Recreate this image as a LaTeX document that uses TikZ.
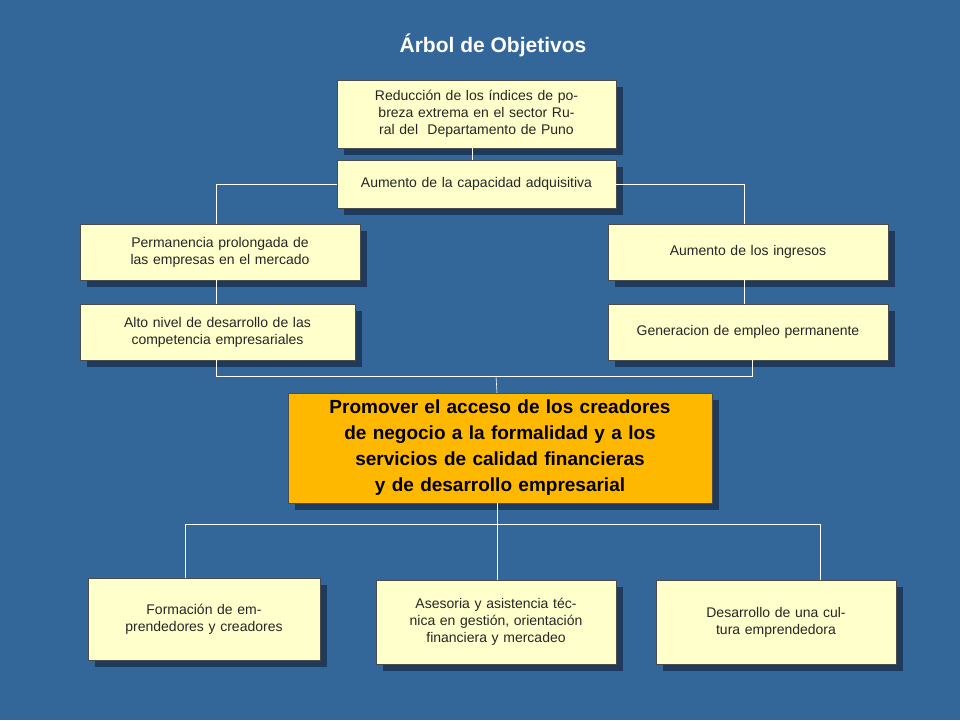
\documentclass[tikz,border=0pt]{standalone}
\usepackage{fontspec}
\setmainfont{Liberation Sans}
\begin{document}
\begin{tikzpicture}[x=1pt,y=-1pt,
  bx/.style={draw=black!70,line width=0.4pt,fill=yellow!20!white,fill=boxfill,align=center,inner sep=2pt,
    font=\fontsize{14}{17}\selectfont,text=black!85,
    postaction={}},
  ln/.style={draw=white,line width=0.6pt}]
\definecolor{bg}{HTML}{336699}
\definecolor{boxfill}{HTML}{FFFFCC}
\definecolor{shd}{HTML}{1E3A5C}
\definecolor{org}{HTML}{FFB800}
\fill[bg] (0,0) rectangle (960,720);
\useasboundingbox (0,0) rectangle (960,720);
\node[font=\bfseries\fontsize{21}{24}\selectfont,text=white] (title) at (493,45) {Árbol de Objetivos};
% boxes: #1 name, #2 x1,#3 y1,#4 x2,#5 y2
\newcommand\mybox[6]{%
  \fill[shd] (#2+7,#3+7) rectangle (#4+7,#5+7);
  \node[bx,minimum width=#4-#2,minimum height=#5-#3,text width=#4-#2-10] (#1) at ({(#2+#4)/2},{(#3+#5)/2}) {#6};}
\mybox{b1}{337}{80}{616}{148}{Reducción de los índices de pobreza extrema en el sector Rural del\ \ Departamento de Puno}
\mybox{b2}{337}{160}{616}{208}{Aumento de la capacidad adquisitiva}
\mybox{b3}{80}{224}{360}{280}{Permanencia prolongada de las empresas en el mercado}
\mybox{b4}{608}{224}{888}{280}{Aumento de los ingresos}
\mybox{b5}{80}{304}{355}{360}{Alto nivel de desarrollo de las competencia empresariales}
\mybox{b6}{608}{304}{888}{360}{Generacion de empleo permanente}
\mybox{b7}{88}{578}{320}{660}{Formación de emprendedores y creadores}
\mybox{b8}{376}{580}{616}{664}{Asesoria y asistencia técnica en gestión, orientación financiera y mercadeo}
\mybox{b9}{656}{580}{896}{664}{Desarrollo de una cultura emprendedora}
\fill[shd] (295,400) rectangle (719,510);
\node[bx,fill=org,minimum width=424,minimum height=110,text width=400,font=\bfseries\fontsize{19}{26}\selectfont,text=black] (c) at (500,448)
 {Promover el acceso de los creadores de negocio a la formalidad y a los servicios de calidad financieras y de desarrollo empresarial};
% connectors
\coordinate (h1l) at (216,184); \coordinate (h1r) at (744,184);
\coordinate (h2l) at (216,376); \coordinate (h2r) at (752,376);
\coordinate (h3l) at (185,524); \coordinate (h3r) at (820,524);
\draw[ln] (b1.south -| 472,0) -- (b2.north -| 472,0);
\draw[ln] (b2.west |- h1l) -- (h1l) -- (b3.north -| h1l);
\draw[ln] (b2.east |- h1r) -- (h1r) -- (b4.north -| h1r);
\draw[ln] (b3.south -| h1l) -- (b5.north -| h1l);
\draw[ln] (b4.south -| h1r) -- (b6.north -| h1r);
\draw[ln] (b5.south -| h2l) -- (h2l) -- (h2r) -- (b6.south -| h2r);
\draw[ln] (496,376) -- (c.north -| 497,0);
\draw[ln] (c.south -| 497,0) -- (b8.north -| 497,0);
\draw[ln] (b7.north -| h3l) -- (h3l) -- (h3r) -- (b9.north -| h3r);
\end{tikzpicture}
\end{document}
